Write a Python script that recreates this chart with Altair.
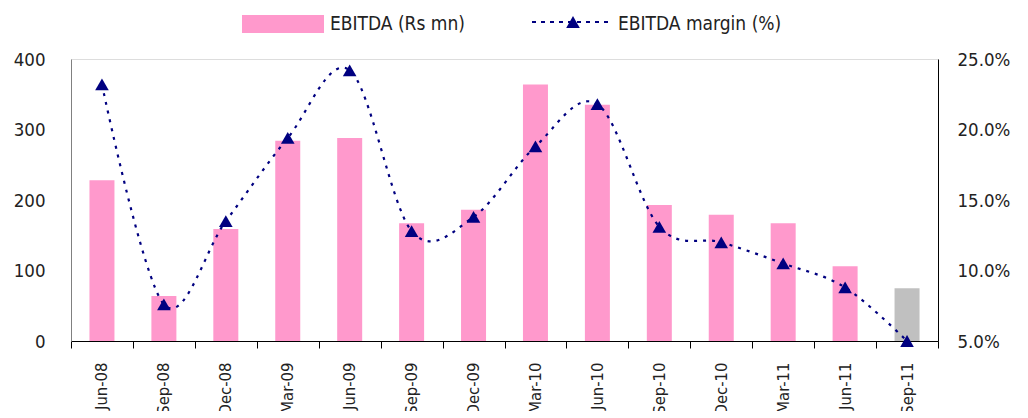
import altair as alt
import pandas as pd

quarters = ["Jun-08", "Sep-08", "Dec-08", "Mar-09", "Jun-09", "Sep-09", "Dec-09",
            "Mar-10", "Jun-10", "Sep-10", "Dec-10", "Mar-11", "Jun-11", "Sep-11"]
ebitda = [228, 64, 159, 284, 288, 167, 186, 364, 335, 193, 179, 167, 106, 75]
margin = [0.232, 0.076, 0.135, 0.194, 0.242, 0.128, 0.138, 0.188, 0.218, 0.131, 0.120, 0.105, 0.088, 0.050]
estimate = [False] * 13 + [True]

df = pd.DataFrame({"Quarter": quarters, "EBITDA": ebitda, "Margin": margin, "Est": estimate})

FONT = "'DejaVu Sans Condensed', 'Liberation Sans', Arial, sans-serif"
FS = 18.5
XFS = 16.5
LFS = 19
PINK = "#FF99CC"
NAVY = "#000080"
TXT = "#222222"
W, H = 867, 282

x_enc = alt.X("Quarter:N", sort=quarters, title=None,
              scale=alt.Scale(paddingInner=0.0, paddingOuter=0.0),
              axis=alt.Axis(labelAngle=270, labelAlign="right", labelBaseline="middle",
                            tickBand="extent", tickSize=7, tickColor="black",
                            domainColor="black", labelPadding=14, labelFontSize=XFS,
                            labelFont=FONT, labelColor=TXT))

bars = alt.Chart(df).mark_bar(size=25).encode(
    x=x_enc,
    y=alt.Y("EBITDA:Q", title=None,
            scale=alt.Scale(domain=[0, 400]),
            axis=alt.Axis(orient="left", values=[0, 100, 200, 300, 400], ticks=False,
                          domainColor="#808080", labelPadding=26, labelFontSize=FS,
                          labelFont=FONT, labelColor=TXT, grid=False)),
    color=alt.condition("datum.Est", alt.value("#C0C0C0"), alt.value(PINK)),
)

line_y = alt.Y("Margin:Q", title=None,
               scale=alt.Scale(domain=[0.05, 0.25]),
               axis=alt.Axis(orient="right", values=[0.05, 0.10, 0.15, 0.20, 0.25], format=".1%",
                             ticks=False, domainColor="black", labelPadding=19,
                             labelFontSize=FS, labelFont=FONT, labelColor=TXT, grid=False))

line = alt.Chart(df).mark_line(color=NAVY, strokeWidth=2.2, strokeDash=[3, 6],
                               interpolate="cardinal").encode(x=x_enc, y=line_y)
pts = alt.Chart(df).mark_point(shape="triangle-up", filled=True, size=185, color=NAVY,
                               opacity=1).encode(x=x_enc, y=line_y)

one = pd.DataFrame({"k": [0]})
leg_rect = alt.Chart(one).mark_rect(color=PINK).encode(
    x=alt.value(171), x2=alt.value(253), y=alt.value(-44), y2=alt.value(-26))
leg_txt1 = alt.Chart(one).mark_text(text="EBITDA (Rs mn)", align="left", baseline="middle",
                                    font=FONT, fontSize=LFS, color=TXT).encode(
    x=alt.value(259), y=alt.value(-35))
leg_line = alt.Chart(one).mark_rule(color=NAVY, strokeWidth=2.2, strokeDash=[4, 5]).encode(
    x=alt.value(461), x2=alt.value(537), y=alt.value(-37))
leg_pt = alt.Chart(one).mark_point(shape="triangle-up", filled=True, size=185, color=NAVY,
                                   opacity=1).encode(x=alt.value(502), y=alt.value(-37))
leg_txt2 = alt.Chart(one).mark_text(text="EBITDA margin (%)", align="left", baseline="middle",
                                    font=FONT, fontSize=LFS, color=TXT).encode(
    x=alt.value(547), y=alt.value(-35))

left = bars
right = alt.layer(line, pts)

chart = alt.layer(left, right, leg_rect, leg_txt1, leg_line, leg_pt, leg_txt2).resolve_scale(
    y="independent"
).properties(
    width=W, height=H,
    autosize=alt.AutoSizeParams(type="none"),
    padding={"left": 63, "top": 51, "right": 82, "bottom": 70},
).configure_view(stroke=None).configure(background="white")

chart.save("out.html", embed_options={"renderer": "svg", "actions": False})
